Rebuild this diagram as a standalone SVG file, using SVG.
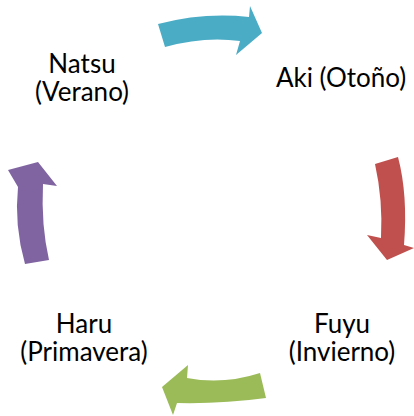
<svg xmlns="http://www.w3.org/2000/svg" width="414" height="416" viewBox="0 0 414 416">
<style>
.lbl{font-family:Lato,"Open Sans","Liberation Sans",sans-serif;font-size:26px;fill:#000;text-anchor:middle}
</style>
<rect width="414" height="416" fill="#fff"/>
<g id="connectors">
<path id="arrow-blue" d="M158,24 Q204,12 249,17 L250,6 L262,33 L236,55 L240,41 Q204,36 165,47 Z" fill="#4BACC6"/>
<path id="arrow-red" d="M375,164 Q383,200 381,238 L367,235 L387,260 L414,248 L404,245 Q408,195 398,157 Z" fill="#C0504D"/>
<path id="arrow-green" d="M260,373 Q223,385 187,378 L188,365 L162,387 L173,415 L177,403 Q222,404 266,398 Z" fill="#9BBB59"/>
<path id="arrow-purple" d="M25,264 Q14,225 18,187 L8,170 L38,162 L57,186 L43,184 Q41,225 49,260 Z" fill="#8064A2"/>
</g>
<g id="natsu"><text class="lbl" x="82" y="73">Natsu</text><text class="lbl" x="82" y="101">(Verano)</text></g>
<g id="aki"><text class="lbl" x="341" y="87">Aki (Otoño)</text></g>
<g id="fuyu"><text class="lbl" x="342" y="333">Fuyu</text><text class="lbl" x="342" y="361">(Invierno)</text></g>
<g id="haru"><text class="lbl" x="84" y="333">Haru</text><text class="lbl" x="84" y="361">(Primavera)</text></g>
</svg>
